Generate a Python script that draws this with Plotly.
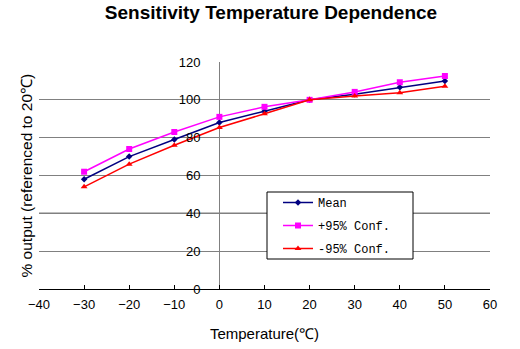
import plotly.graph_objects as go

# Sensor output vs temperature, normalised to the 20 °C reading
temperature = [-30, -20, -10, 0, 10, 20, 30, 40, 50]
mean_output = [58, 70, 79, 88, 94, 100, 103, 106.6, 110]
upper_conf = [62, 74, 83, 91, 96.3, 100, 104.2, 109.3, 112.6]
lower_conf = [54, 66, 76, 85.4, 92.6, 100, 102, 103.8, 107.2]

x_ticks = list(range(-40, 61, 10))
y_ticks = list(range(0, 121, 20))

fig = go.Figure()

series = [
    ("Mean", mean_output, "#000080", "diamond", 5),
    ("+95% Conf.", upper_conf, "#FF00FF", "square", 6),
    ("-95% Conf.", lower_conf, "#FF0000", "triangle-up", 6),
]
for name, values, color, symbol, size in series:
    fig.add_trace(go.Scatter(
        x=temperature, y=values, name=name, legendgroup=name,
        mode="lines+markers",
        line=dict(color=color, width=1.5),
        marker=dict(color=color, symbol=symbol, size=size),
    ))

# darker reference line at 40 %
fig.add_hline(y=40, line=dict(color="black", width=1.2), layer="below")

# framed box behind the legend entries
fig.add_shape(
    type="rect", xref="paper", yref="paper",
    x0=(267 - 39) / 451, x1=(413 - 39) / 451,
    y0=(289 - 259) / 227, y1=(289 - 192) / 227,
    line=dict(color="black", width=1), fillcolor="white", layer="above",
)

fig.update_layout(
    width=520, height=349,
    margin=dict(l=39, r=30, t=62, b=60),
    paper_bgcolor="white", plot_bgcolor="white",
    font=dict(family="Liberation Sans, Arial, sans-serif", color="black"),
    title=dict(
        text="<b>Sensitivity Temperature Dependence</b>",
        font=dict(size=19, family="Liberation Sans, Arial, sans-serif"),
        x=271 / 520, xanchor="center",
        y=1 - 12.5 / 349, yanchor="middle", yref="container",
    ),
    xaxis=dict(
        range=[-40, 60], tickvals=x_ticks, automargin=False,
        ticks="inside", ticklen=4, tickcolor="black",
        showline=True, linecolor="black", linewidth=1,
        showgrid=False,
        zeroline=True, zerolinecolor="#808080", zerolinewidth=1,
        tickfont=dict(size=13),
        ticklabelstandoff=3,
        title=dict(text="Temperature(℃)", font=dict(size=15), standoff=17),
    ),
    yaxis=dict(
        range=[0, 120], tickvals=y_ticks, automargin=False,
        anchor="free", position=0.4,
        showline=False, ticks="",
        showgrid=True, gridcolor="#808080", gridwidth=1,
        zeroline=False,
        tickfont=dict(size=13),
        ticklabelstandoff=19,
    ),
    legend=dict(
        x=(278 - 39) / 451, y=(289 - 188) / 227, xanchor="left", yanchor="top",
        bgcolor="rgba(0,0,0,0)", borderwidth=0,
        font=dict(family="Liberation Mono, monospace", size=12),
        itemwidth=30, tracegroupgap=4,
    ),
    showlegend=True,
)

# y-axis title placed at the left edge, since the axis itself sits at x = 0
fig.add_annotation(
    text="% output (referenced to 20℃)", textangle=-90,
    x=(26 - 39) / 451, xref="paper", y=0.5, yref="paper",
    xanchor="center", yanchor="middle", showarrow=False,
    font=dict(size=15.5),
)

fig.write_html("out.html")
